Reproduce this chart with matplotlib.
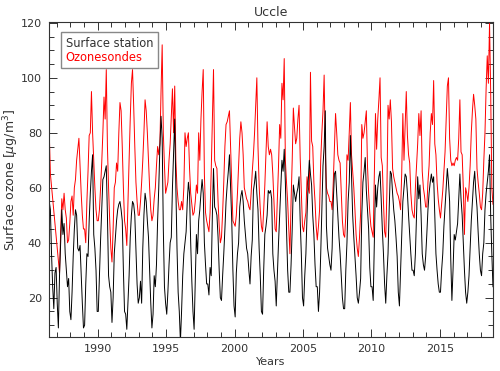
import numpy as np
import pandas as pd
import matplotlib
matplotlib.use("Agg")
import matplotlib.pyplot as plt
from matplotlib.ticker import MultipleLocator

# monthly means, Jun 1986 .. Nov 2018
first_month = "1986-06"
last_month = "2018-11"

surface_station = [
    55, 52, 36, 24, 16, 29, 31,                              # 1986 Jun-Dec
    18, 9, 28, 40, 52, 43, 47, 36, 30, 24, 27, 15,           # 1987
    12, 22, 35, 45, 52, 50, 38, 37, 39, 28, 18, 9,           # 1988
    10, 25, 36, 35, 48, 58, 66, 72, 43, 38, 30, 15,          # 1989
    15, 28, 41, 52, 63, 64, 66, 68, 50, 28, 24, 22,          # 1990
    11, 20, 36, 42, 48, 52, 54, 55, 52, 48, 30, 15,          # 1991
    14, 8.5, 18, 28, 42, 50, 55, 54, 50, 38, 25, 18,         # 1992
    20, 26, 18, 38, 50, 58, 55, 48, 42, 30, 18, 9,           # 1993
    14, 28, 24, 32, 48, 60, 75, 86, 78, 45, 24, 18,          # 1994
    14, 22, 32, 40, 42, 60, 72, 85, 60, 38, 22, 15,          # 1995
    4, 15, 28, 36, 40, 44, 55, 62, 58, 40, 26, 15,           # 1996
    8.5, 25, 43, 36, 48, 52, 58, 63, 58, 40, 32, 25,         # 1997
    25, 21, 31, 28, 50, 67, 53, 52, 50, 42, 30, 20,          # 1998
    19, 28, 36, 45, 55, 61, 66, 72, 60, 48, 30, 17,          # 1999
    13, 29, 36, 40, 53, 57, 59, 55, 48, 43, 38, 36,          # 2000
    30, 25, 35, 41, 59, 62, 66, 58, 52, 38, 28, 15,          # 2001
    14, 30, 43, 46, 50, 59, 58, 59, 56, 36, 30, 26,          # 2002
    17, 29, 40, 50, 60, 70, 66, 74, 62, 45, 30, 22,          # 2003
    22, 32, 45, 61, 58, 55, 58, 60, 64, 48, 36, 20,          # 2004
    17, 28, 36, 50, 62, 70, 65, 61, 50, 43, 32, 24,          # 2005
    24, 15, 22, 36, 52, 68, 75, 88, 46, 38, 35, 32,          # 2006
    30, 38, 55, 65, 66, 58, 50, 42, 36, 28, 20, 16,          # 2007
    16, 30, 40, 55, 62, 79, 65, 50, 42, 35, 28, 20,          # 2008
    18, 22, 27, 50, 62, 66, 71, 59, 52, 45, 31, 24,          # 2009
    24, 19, 40, 61, 53, 60, 64, 66, 56, 45, 36, 25,          # 2010
    18, 28, 36, 52, 66, 65, 58, 52, 48, 42, 35, 22,          # 2011
    17, 30, 42, 55, 60, 65, 64, 58, 50, 43, 36, 30,          # 2012
    30, 28, 36, 50, 64, 56, 61, 50, 36, 32, 30, 35,          # 2013
    43, 52, 58, 62, 65, 62, 64, 50, 36, 30, 25, 22,          # 2014
    22, 30, 36, 46, 53, 60, 67, 62, 55, 34, 19, 30,          # 2015
    43, 41, 44, 47, 56, 65, 56, 50, 40, 30, 22, 18,          # 2016
    22, 28, 38, 48, 55, 62, 66, 58, 53, 44, 36, 30,          # 2017
    28, 36, 40, 52, 58, 62, 66, 72, 50, 36, 24,              # 2018 Jan-Nov
]

nan = np.nan
ozonesondes = [
    80, 65, nan, nan, nan, nan, nan,                         # 1986 Jun-Dec
    nan, nan, 29, 44, 56, 52, 58, 52, 49, 40, 41, 47,        # 1987
    55, 57, 50, 60, 63, 70, 74, 78, 68, 58, 50, 45,          # 1988
    45, 40, 55, 66, 79, 80, 95, 80, 70, 60, 52, 48,          # 1989
    48, 52, 60, 69, 80, 93, 85, 103, 75, 60, 48, 38,         # 1990
    33, 45, 60, 62, 69, 66, 80, 91, 88, 75, 60, 48,          # 1991
    45, 39, 55, 70, 85, 98, 103, 90, 75, 62, 55, 50,         # 1992
    50, 55, 62, 70, 80, 92, 88, 80, 70, 60, 52, 48,          # 1993
    50, 56, 60, 68, 75, 72, 76, 95, 112, 80, 68, 58,         # 1994
    60, 62, 70, 76, 86, 96, 80, 97, 70, 60, 55, 52,          # 1995
    52, 55, 52, 60, 80, 75, 78, 80, 67, 58, 54, 50,          # 1996
    51, 55, 61, 58, 80, 70, 85, 95, 103, 65, 51, 48,         # 1997
    46, 44, 51, 66, 85, 103, 70, 68, 67, 55, 46, 40,         # 1998
    42, 51, 62, 75, 83, 84, 86, 88, 75, 62, 48, 47,          # 1999
    46, 50, 58, 68, 78, 84, 80, 72, 60, 58, 56, 55,          # 2000
    53, 52, 58, 66, 72, 80, 90, 100, 75, 61, 52, 46,         # 2001
    44, 52, 61, 72, 84, 75, 72, 74, 72, 65, 55, 45,          # 2002
    44, 56, 68, 83, 78, 98, 92, 107, 70, 62, 55, 45,         # 2003
    36, 55, 70, 89, 82, 76, 78, 85, 90, 71, 58, 46,          # 2004
    44, 48, 51, 64, 60, 58, 102, 77, 75, 62, 55, 46,         # 2005
    41, 46, 52, 70, 80, 88, 101, 74, 60, 58, 57, 55,         # 2006
    55, 52, 62, 75, 87, 80, 72, 70, 69, 58, 48, 43,          # 2007
    42, 50, 72, 70, 80, 91, 72, 66, 60, 52, 43, 38,          # 2008
    35, 42, 51, 83, 78, 80, 84, 88, 68, 58, 51, 46,          # 2009
    44, 42, 65, 87, 74, 85, 92, 100, 71, 68, 55, 44,         # 2010
    42, 58, 90, 85, 92, 84, 67, 64, 62, 60, 58, 57,          # 2011
    55, 52, 65, 87, 70, 82, 95, 79, 72, 69, 58, 52,          # 2012
    50, 49, 60, 68, 76, 87, 79, 88, 66, 60, 57, 53,          # 2013
    53, 62, 68, 80, 87, 83, 99, 76, 72, 62, 56, 52,          # 2014
    49, 54, 59, 66, 73, 85, 97, 100, 78, 70, 68, 69,         # 2015
    68, 70, 71, 70, 78, 92, 73, 72, 60, 43, 60, 58,          # 2016
    55, 60, 68, 80, 88, 94, 90, 85, 67, 62, 58, 53,          # 2017
    52, 58, 70, 80, 96, 108, 98, 120, 95, 60, 54,            # 2018 Jan-Nov
]

series_labels = ["Surface station", "Ozonesondes"]
series_colors = ["black", "red"]

months = pd.period_range(first_month, last_month, freq="M")
years = months.year + (months.month - 0.5) / 12.0

df = pd.DataFrame({"t": years, "surface": surface_station, "sondes": ozonesondes})
sondes = df.dropna(subset=["sondes"])  # missing months are bridged, as in the original

text_col = "#333333"
plt.rcParams["font.family"] = ["DejaVu Sans"]
plt.rcParams["font.size"] = 8

fig = plt.figure(figsize=(5.0, 3.71), dpi=100)
ax = fig.add_axes([0.098, 0.0916, 0.8886, 0.8491])

ax.plot(sondes["t"], sondes["sondes"], color=series_colors[1], lw=0.7, label=series_labels[1])
ax.plot(df["t"], df["surface"], color=series_colors[0], lw=0.7, label=series_labels[0])

ax.set_xlim(1986.44, 2018.9)
ax.set_ylim(5.7, 120.3)
ax.xaxis.set_major_locator(MultipleLocator(5))
ax.xaxis.set_minor_locator(MultipleLocator(1))
ax.yaxis.set_major_locator(MultipleLocator(20))
ax.yaxis.set_minor_locator(MultipleLocator(5))
ax.tick_params(which="both", direction="in", top=True, right=True, colors=text_col,
               labelcolor=text_col, width=0.7)
ax.tick_params(which="major", length=6, pad=5)
ax.tick_params(which="minor", length=3.5)
for sp in ax.spines.values():
    sp.set_color(text_col)
    sp.set_linewidth(0.8)

ax.set_title("Uccle", color=text_col, fontsize=9, pad=4)
ax.set_xlabel("Years", color=text_col, labelpad=2)
ax.set_ylabel("Surface ozone [$\\mu$g/m$^3$]", color=text_col, fontsize=9)
ax.yaxis.set_label_coords(-0.064, 0.5)

handles, labels = ax.get_legend_handles_labels()
order = [1, 0]
leg = ax.legend([handles[i] for i in order], [labels[i] for i in order],
                loc="upper left", bbox_to_anchor=(0.027, 0.968), borderaxespad=0,
                handlelength=0, handletextpad=0, fancybox=False, edgecolor="#888888",
                framealpha=1, borderpad=0.4, labelspacing=0.1, fontsize=8.3)
for line, txt in zip(leg.get_lines(), leg.get_texts()):
    line.set_visible(False)
    txt.set_color(line.get_color() if line.get_color() != "black" else text_col)

fig.savefig("out.png", dpi=100)
